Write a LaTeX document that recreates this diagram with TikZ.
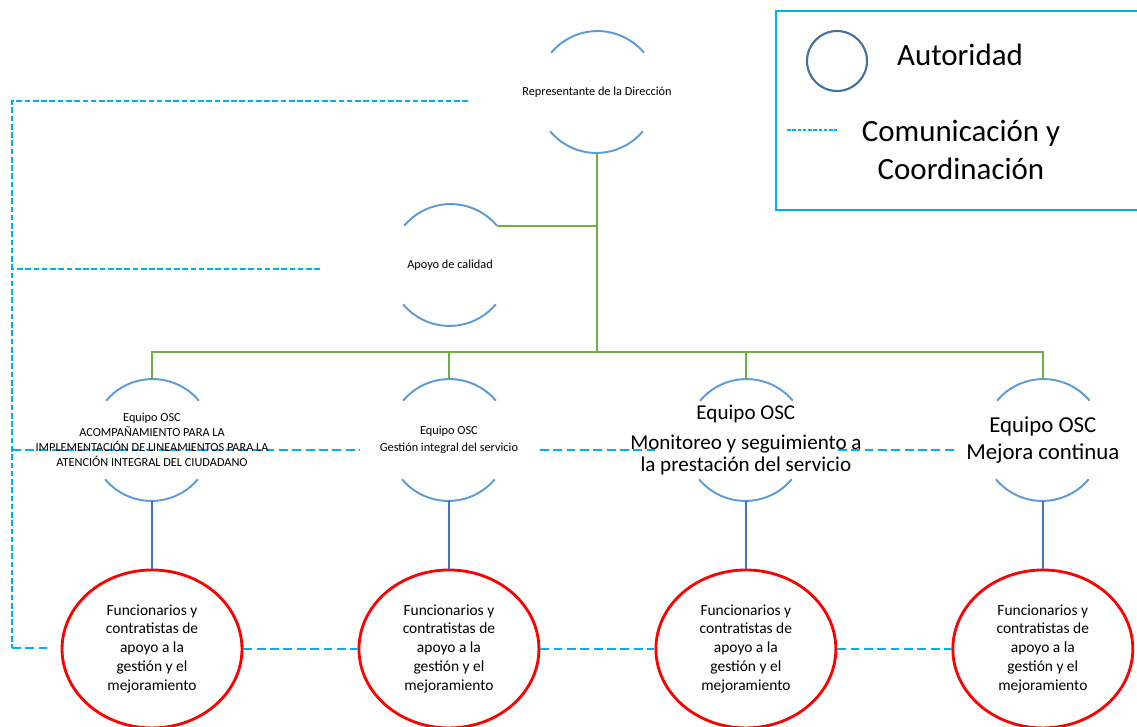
\documentclass[tikz,border=0pt]{standalone}
\usepackage{fontspec}
\setmainfont{Carlito}
\usepackage{tikz}
\usetikzlibrary{shapes,positioning}

\definecolor{arcblue}{HTML}{5B9BD5}
\definecolor{orggreen}{HTML}{70AD47}
\definecolor{linkblue}{HTML}{4472C4}
\definecolor{comcyan}{HTML}{00B0F0}
\definecolor{legblue}{HTML}{41719C}

\begin{document}
\begin{tikzpicture}[x=0.02cm, y=-0.02cm, thick, node distance=5.94cm]

\tikzstyle{ring}=[circle,minimum size=2.42cm,inner sep=0pt]
\tikzstyle{member}=[ellipse,draw=red,line width=1.6pt,minimum width=3.6cm,minimum height=3.16cm,inner sep=0pt,align=center,font=\fontsize{8.8}{10.8}\selectfont]
\tikzstyle{arcline}=[draw=arcblue,line width=1.1pt]
\tikzstyle{orgline}=[draw=orggreen,line width=1.1pt]
\tikzstyle{linkline}=[draw=linkblue,line width=1.1pt]
\tikzstyle{comline}=[draw=comcyan,line width=1.1pt,dash pattern=on 3.2pt off 1.5pt]
\tikzstyle{comlong}=[draw=comcyan,line width=1.1pt,dash pattern=on 5pt off 2.6pt]
\tikzstyle{smalltxt}=[align=center,font=\fontsize{7}{9.6}\selectfont]

\useasboundingbox (0,0) rectangle (1137,727);
\clip (0,0) rectangle (1137,727);

\node[ring] (Rep) at (597,92) {};
\node[ring] (Apoyo) at (450,265) {};
\node[ring] (Eq1) at (152,440) {};
\node[ring] (Eq2) [right of=Eq1] {};
\node[ring] (Eq3) [right of=Eq2] {};
\node[ring] (Eq4) [right of=Eq3] {};

\node[member] (Fun1) [below of=Eq1, node distance=4.18cm] {Funcionarios y\\contratistas de\\apoyo a la\\gestión y el\\mejoramiento};
\node[member] (Fun2) [below of=Eq2, node distance=4.18cm] {Funcionarios y\\contratistas de\\apoyo a la\\gestión y el\\mejoramiento};
\node[member] (Fun3) [below of=Eq3, node distance=4.18cm] {Funcionarios y\\contratistas de\\apoyo a la\\gestión y el\\mejoramiento};
\node[member] (Fun4) [below of=Eq4, node distance=4.18cm] {Funcionarios y\\contratistas de\\apoyo a la\\gestión y el\\mejoramiento};

% arcos de autoridad
\foreach \n in {Rep,Apoyo,Eq1,Eq2,Eq3,Eq4} {
  \draw[arcline] (\n.40) arc[start angle=40,end angle=140,radius=1.21cm];
  \draw[arcline] (\n.220) arc[start angle=220,end angle=320,radius=1.21cm];
}

% lineas de autoridad
\coordinate (bus) at (597,352);
\draw[orgline] (Rep.south) -- (bus);
\draw[orgline] (Apoyo.40) -- (Apoyo.40 -| bus);
\draw[orgline] (Eq1.north) -- (Eq1.north |- bus) -- (Eq4.north |- bus) -- (Eq4.north);
\draw[orgline] (Eq2.north) -- (Eq2.north |- bus);
\draw[orgline] (Eq3.north) -- (Eq3.north |- bus);

\path[linkline]
(Eq1) edge (Fun1)
(Eq2) edge (Fun2)
(Eq3) edge (Fun3)
(Eq4) edge (Fun4);

% comunicacion y coordinacion
\coordinate (cRep) at (468,101);
\coordinate (cApoyo) at (320,269);
\coordinate (cLeft) at (12,648);
\coordinate (cFun1) at (50,648);
\coordinate (cEq1) at (360,450);
\coordinate (cEq2) at (540,450);
\coordinate (cEq3a) at (655,450);
\coordinate (cEq3b) at (838,450);
\coordinate (cEq4) at (955,450);

\draw[comline] (cRep) -| (cLeft);
\draw[comline] (cApoyo) -- (cApoyo -| cLeft);
\draw[comlong] (cEq1 -| cLeft) -- (cEq1);
\draw[comlong] (cEq2) -- (cEq3a);
\draw[comlong] (cEq3b) -- (cEq4);
\draw[comlong] (cLeft) -- (cFun1);

\path[comlong]
(Fun1) edge (Fun2)
(Fun2) edge (Fun3)
(Fun3) edge (Fun4);

% textos
\node[smalltxt] (RepTxt) at (Rep) {Representante de la Dirección};
\node[smalltxt] (ApoyoTxt) at (Apoyo) {Apoyo de calidad};
\node[smalltxt, font=\fontsize{7}{8.5}\selectfont] (Eq1Txt) at (Eq1) {Equipo OSC\\ACOMPAÑAMIENTO PARA LA\\IMPLEMENTACIÓN DE LINEAMIENTOS PARA LA\\ATENCIÓN INTEGRAL DEL CIUDADANO};
\node[smalltxt] (Eq2Txt) at (Eq2) {Equipo OSC\\Gestión integral del servicio};
\node[smalltxt, font=\fontsize{12}{12.5}\selectfont] (Eq3Txt) at (Eq3) {Equipo OSC\\[5pt]Monitoreo y seguimiento a\\la prestación del servicio};
\node[smalltxt, font=\fontsize{13}{15.3}\selectfont] (Eq4Txt) at (Eq4) {Equipo OSC\\Mejora continua};

% leyenda
\draw[draw=comcyan, line width=1.4pt] (776,11) rectangle (1150,210);
\node[circle, draw=legblue, line width=1.2pt, minimum size=1.2cm] (legAut) at (837,61) {};
\node[font=\fontsize{17.6}{21.5}\selectfont] (legAutTxt) at (960,55) {Autoridad};
\coordinate (legComA) at (787,130);
\coordinate (legComB) at (837,130);
\draw[draw=comcyan, line width=0.8pt, dash pattern=on 2pt off 1pt] (legComA) -- (legComB);
\node[align=center, font=\fontsize{17.6}{21.5}\selectfont] (legComTxt) at (961,150) {Comunicación y\\Coordinación};

\end{tikzpicture}
\end{document}
